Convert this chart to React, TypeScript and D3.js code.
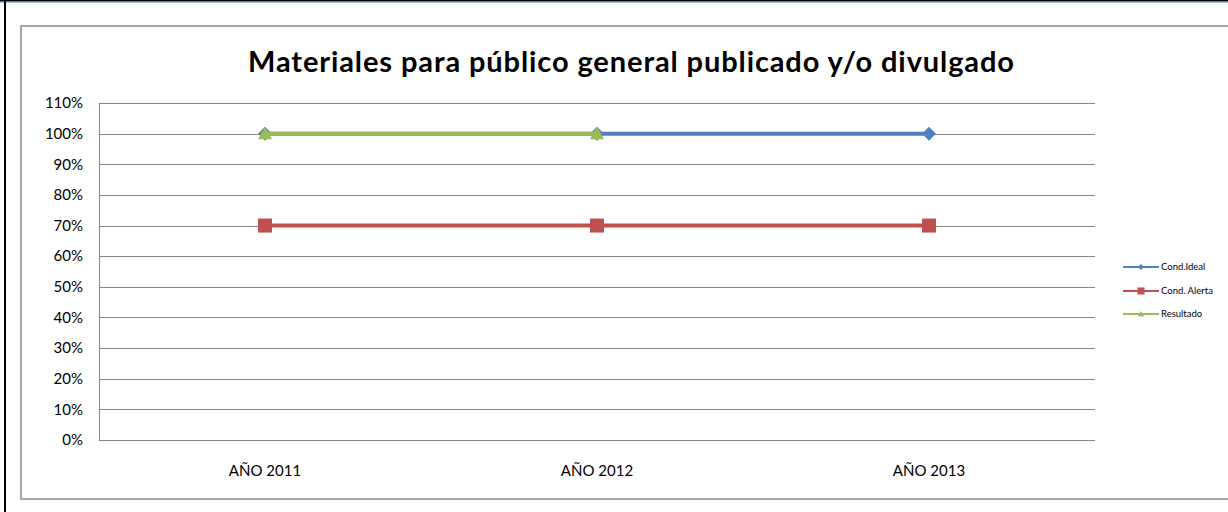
import { useRef, useEffect } from "react";
import * as d3 from "d3";

const categories = ["AÑO 2011", "AÑO 2012", "AÑO 2013"];
const condIdeal = [1, 1, 1];
const condAlerta = [0.7, 0.7, 0.7];
const resultado: (number | null)[] = [1, 1, null];
const yTicks = [0, 0.1, 0.2, 0.3, 0.4, 0.5, 0.6, 0.7, 0.8, 0.9, 1.0, 1.1];
const title = "Materiales para público general publicado y/o divulgado";

const seriesList = [
  { name: "Cond.Ideal", values: condIdeal as (number | null)[], color: "#4F81BD", marker: "diamond" },
  { name: "Cond. Alerta", values: condAlerta as (number | null)[], color: "#C0504D", marker: "square" },
  { name: "Resultado", values: resultado, color: "#9BBB59", marker: "triangle" },
];

const W = 1228;
const H = 512;
const FONT = "Lato, 'Open Sans', sans-serif";

export default function App() {
  const svgRef = useRef<SVGSVGElement>(null);

  useEffect(() => {
    document.body.style.margin = "0";
    if (!svgRef.current) return;
    const svg = d3.select(svgRef.current);
    svg.selectAll("*").remove();

    svg.append("rect").attr("width", W).attr("height", H).attr("fill", "#fff");

    // outer page frame
    svg.append("line").attr("x1", 0).attr("x2", W).attr("y1", 0.5).attr("y2", 0.5)
      .attr("stroke", "#000").attr("stroke-width", 2);
    svg.append("line").attr("x1", 0).attr("x2", W).attr("y1", 2).attr("y2", 2)
      .attr("stroke", "#4F81BD").attr("stroke-width", 1);
    svg.append("line").attr("x1", 5).attr("x2", 5).attr("y1", 0).attr("y2", H)
      .attr("stroke", "#000").attr("stroke-width", 2);

    // chart area border
    svg.append("rect").attr("x", 21).attr("y", 26).attr("width", 1240).attr("height", 473)
      .attr("fill", "none").attr("stroke", "#a6a6a6").attr("stroke-width", 2);

    const margin = { left: 99, right: 1095, top: 103, bottom: 440 };
    const x = d3.scaleBand<string>().domain(categories).range([margin.left, margin.right]);
    const y = d3.scaleLinear().domain([0, 1.1]).range([margin.bottom, margin.top]);
    const cx = (c: string) => (x(c) ?? 0) + x.bandwidth() / 2;

    // gridlines
    svg.append("g").selectAll("line").data(yTicks).enter().append("line")
      .attr("x1", margin.left).attr("x2", margin.right)
      .attr("y1", (d) => Math.round(y(d)) + 0.5).attr("y2", (d) => Math.round(y(d)) + 0.5)
      .attr("stroke", "#868686").attr("stroke-width", 1);

    svg.append("line").attr("x1", margin.left + 0.5).attr("x2", margin.left + 0.5)
      .attr("y1", margin.top).attr("y2", margin.bottom)
      .attr("stroke", "#868686");

    // y labels
    svg.append("g").selectAll("text").data(yTicks).enter().append("text")
      .attr("x", 83).attr("y", (d) => y(d)).attr("dy", "0.35em")
      .attr("text-anchor", "end").attr("font-family", FONT).attr("font-size", "15px")
      .attr("fill", "#000").text((d) => d3.format(".0%")(d));

    // x labels
    svg.append("g").selectAll("text").data(categories).enter().append("text")
      .attr("x", (d) => cx(d)).attr("y", 471).attr("dy", "0.35em")
      .attr("text-anchor", "middle").attr("font-family", FONT).attr("font-size", "15px")
      .attr("fill", "#000").text((d) => d);

    // title
    svg.append("text").attr("x", 631).attr("y", 62).attr("dy", "0.35em")
      .attr("text-anchor", "middle").attr("font-family", FONT).attr("font-weight", "700")
      .attr("font-size", "29px").attr("textLength", 766).attr("lengthAdjust", "spacing")
      .attr("fill", "#000").text(title);

    const drawMarker = (g: d3.Selection<SVGGElement, unknown, null, undefined>, kind: string, px: number, py: number, color: string, size: number) => {
      const s = size / 2;
      if (kind === "square") {
        g.append("rect").attr("x", px - s).attr("y", py - s).attr("width", size).attr("height", size).attr("fill", color);
      } else if (kind === "diamond") {
        g.append("path").attr("d", `M${px},${py - s}L${px + s},${py}L${px},${py + s}L${px - s},${py}Z`).attr("fill", color);
      } else {
        g.append("path").attr("d", `M${px},${py - s}L${px + s},${py + s * 0.8}L${px - s},${py + s * 0.8}Z`).attr("fill", color);
      }
    };

    const line = d3.line<number | null>()
      .defined((d) => d !== null)
      .x((_, i) => cx(categories[i]))
      .y((d) => y(d as number));

    seriesList.forEach((s) => {
      const g = svg.append("g");
      g.append("path").attr("d", line(s.values)).attr("fill", "none")
        .attr("stroke", s.color).attr("stroke-width", 4);
      s.values.forEach((v, i) => {
        if (v === null) return;
        drawMarker(g, s.marker, cx(categories[i]), y(v), s.color, 14);
      });
    });

    // legend
    const legendY = [267, 291, 314];
    seriesList.forEach((s, i) => {
      const g = svg.append("g");
      g.append("line").attr("x1", 1123).attr("x2", 1159).attr("y1", legendY[i]).attr("y2", legendY[i])
        .attr("stroke", s.color).attr("stroke-width", 2);
      drawMarker(g, s.marker, 1141, legendY[i], s.color, s.marker === "square" ? 7 : 6);
      g.append("text").attr("x", 1161).attr("y", legendY[i]).attr("dy", "0.35em")
        .attr("font-family", FONT).attr("font-size", "9.5px").attr("fill", "#000").text(s.name);
    });
  }, []);

  return <svg ref={svgRef} width={W} height={H} style={{ display: "block" }} />;
}
